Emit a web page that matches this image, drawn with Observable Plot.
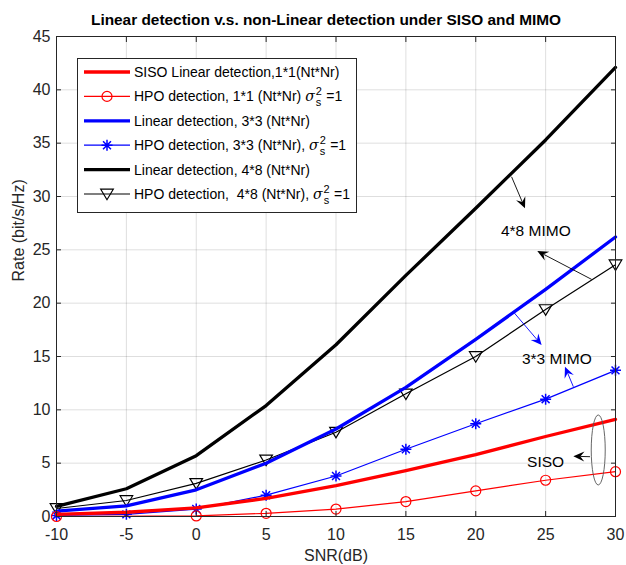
<!DOCTYPE html>
<html><head><meta charset="utf-8">
<script src="https://cdn.jsdelivr.net/npm/d3@7"></script>
<script src="https://cdn.jsdelivr.net/npm/@observablehq/plot@0.6"></script>
<style>
body{margin:0;background:#fff;}
#wrap{position:relative;width:626px;height:565px;font-family:"Liberation Sans",Arial,sans-serif;}
#legend{position:absolute;left:77px;top:58px;}
</style></head>
<body><div id="wrap"></div>
<script>
// ---- data ----
const snr = [-10, -5, 0, 5, 10, 15, 20, 25, 30];
const sisoLinear = [0.2, 0.4, 0.8, 1.7, 2.9, 4.3, 5.8, 7.5, 9.1];
const sisoHPO = [0.0, null, 0.05, 0.3, 0.7, 1.4, 2.4, 3.4, 4.2];
const mimo33Linear = [0.5, 1.0, 2.5, 5.0, 8.2, 12.1, 16.6, 21.3, 26.2];
const mimo33HPO = [0.1, 0.2, 0.7, 2.0, 3.8, 6.3, 8.7, 11.0, 13.7];
const mimo48Linear = [0.95, 2.6, 5.7, 10.4, 16.1, 22.6, 28.9, 35.3, 42.1];
const mimo48HPO = [0.75, 1.5, 3.1, 5.3, 7.9, 11.5, 15.0, 19.4, 23.6];
const xTicks = [-10, -5, 0, 5, 10, 15, 20, 25, 30];
const yTicks = [0, 5, 10, 15, 20, 25, 30, 35, 40, 45];
const titleText = "Linear detection v.s. non-Linear detection under SISO and MIMO";
const xLabel = "SNR(dB)";
const yLabel = "Rate (bit/s/Hz)";
const legendLabels = [
  "SISO Linear detection,1*1(Nt*Nr)",
  "HPO detection, 1*1 (Nt*Nr) ",
  "Linear detection, 3*3 (Nt*Nr)",
  "HPO detection, 3*3 (Nt*Nr), ",
  "Linear detection, 4*8 (Nt*Nr)",
  "HPO detection,  4*8 (Nt*Nr), "
];
// annotations (data units)
const annotLabels = [
  {text: "4*8 MIMO", x: 24.3, y: 26.8, color: "#000"},
  {text: "3*3 MIMO", x: 25.8, y: 14.8, color: "#000"},
  {text: "SISO", x: 25.0, y: 5.1, color: "#000"}
];
const arrows = [
  {x1: 22.6, y1: 31.8, x2: 23.56, y2: 28.84, color: "#000"},
  {x1: 28.33, y1: 22.18, x2: 24.44, y2: 24.84, color: "#000"},
  {x1: 22.72, y1: 19.15, x2: 24.75, y2: 16.03, color: "#0000ff"},
  {x1: 27.02, y1: 12.12, x2: 26.42, y2: 14.0, color: "#0000ff"},
  {x1: 28.21, y1: 5.56, x2: 27.02, y2: 5.6, color: "#000"}
];
const ellipses = [{x: 28.8, y: 6.19, rx: 7, ry: 35}];

// ---- helpers ----
const rows = (ys) => snr.map((x, i) => ({x, y: ys[i]})).filter(d => d.y != null);
const asterisk = {draw(ctx, size) {
  const r = Math.sqrt(size / Math.PI), d = r * 0.72;
  ctx.moveTo(0, -r); ctx.lineTo(0, r);
  ctx.moveTo(-r, 0); ctx.lineTo(r, 0);
  ctx.moveTo(-d, -d); ctx.lineTo(d, d);
  ctx.moveTo(-d, d); ctx.lineTo(d, -d);
}};
const triDown = {draw(ctx, size) {
  const r = Math.sqrt(size / Math.PI);
  ctx.moveTo(0, r * 0.95); ctx.lineTo(-r * 1.05, -r * 0.8); ctx.lineTo(r * 1.05, -r * 0.8); ctx.closePath();
}};
const circ = {draw(ctx, size) { const r = Math.sqrt(size / Math.PI); ctx.moveTo(r, 0); ctx.arc(0, 0, r, 0, 2 * Math.PI); }};

function annotMark(index, scales) {
  const g = d3.create("svg:g");
  for (const a of arrows) {
    const x1 = scales.x(a.x1), y1 = scales.y(a.y1), x2 = scales.x(a.x2), y2 = scales.y(a.y2);
    const ang = Math.atan2(y2 - y1, x2 - x1), L = 11, W = 5, N = 7;
    const bx = x2 - L * Math.cos(ang), by = y2 - L * Math.sin(ang);
    const nx = x2 - N * Math.cos(ang), ny = y2 - N * Math.sin(ang);
    const px = -Math.sin(ang), py = Math.cos(ang);
    g.append("line").attr("x1", x1).attr("y1", y1).attr("x2", nx).attr("y2", ny).attr("stroke", a.color).attr("stroke-width", 0.9);
    g.append("path").attr("d", `M${x2},${y2}L${bx + px * W},${by + py * W}L${nx},${ny}L${bx - px * W},${by - py * W}Z`).attr("fill", a.color);
  }
  for (const e of ellipses) {
    g.append("ellipse").attr("cx", scales.x(e.x)).attr("cy", scales.y(e.y)).attr("rx", e.rx).attr("ry", e.ry)
      .attr("fill", "none").attr("stroke", "#555").attr("stroke-width", 0.9);
  }
  return g.node();
}

const FONT = "Liberation Sans, Arial, sans-serif";
const chart = Plot.plot({
  width: 626, height: 565,
  marginLeft: 56, marginRight: 11, marginTop: 36, marginBottom: 49,
  style: {fontFamily: FONT, fontSize: "16px", color: "#262626", background: "#fff"},
  x: {domain: [-10, 30]},
  y: {domain: [0, 45]},
  marks: [
    Plot.gridX(xTicks, {stroke: "#000", strokeOpacity: 0.13}),
    Plot.gridY(yTicks, {stroke: "#000", strokeOpacity: 0.13}),
    Plot.line(rows(mimo48Linear), {x: "x", y: "y", stroke: "#000", strokeWidth: 3.3}),
    Plot.line(rows(mimo48HPO), {x: "x", y: "y", stroke: "#000", strokeWidth: 1.2}),
    Plot.dot(rows(mimo48HPO), {x: "x", y: "y", r: 6, symbol: triDown, stroke: "#000", fill: "none", strokeWidth: 1.2}),
    Plot.line(rows(mimo33Linear), {x: "x", y: "y", stroke: "#0000ff", strokeWidth: 3.3}),
    Plot.line(rows(mimo33HPO), {x: "x", y: "y", stroke: "#0000ff", strokeWidth: 1.2}),
    Plot.dot(rows(mimo33HPO), {x: "x", y: "y", r: 5.5, symbol: asterisk, stroke: "#0000ff", fill: "none", strokeWidth: 1.5}),
    Plot.line(rows(sisoLinear), {x: "x", y: "y", stroke: "#ff0000", strokeWidth: 3.3}),
    Plot.line(rows(sisoHPO), {x: "x", y: "y", stroke: "#ff0000", strokeWidth: 1.2}),
    Plot.dot(rows(sisoHPO), {x: "x", y: "y", r: 5, symbol: circ, stroke: "#ff0000", fill: "none", strokeWidth: 1.2}),
    annotMark,
    Plot.text(annotLabels, {x: "x", y: "y", text: "text", fill: "color", fontSize: 15.5}),
    Plot.frame({stroke: "#262626", strokeWidth: 1}),
    Plot.axisX(xTicks, {anchor: "bottom", tickSize: -5, tickPadding: 17, label: null, tickFormat: d => d, stroke: "#262626", fill: "#262626"}),
    Plot.axisX(xTicks, {anchor: "top", tickSize: -5, label: null, tickFormat: () => "", stroke: "#262626"}),
    Plot.axisY(yTicks, {anchor: "left", tickSize: -5, tickPadding: 11, label: null, tickFormat: d => d, stroke: "#262626", fill: "#262626"}),
    Plot.axisY(yTicks, {anchor: "right", tickSize: -5, label: null, tickFormat: () => "", stroke: "#262626"}),
    Plot.text([titleText], {frameAnchor: "top", text: d => d, lineAnchor: "middle", dy: -16, dx: -10, fontWeight: "bold", fontSize: 15.4, fill: "#000"}),
    Plot.text([xLabel], {frameAnchor: "bottom", text: d => d, lineAnchor: "middle", dy: 39, fontSize: 16, fill: "#262626"}),
    Plot.text([yLabel], {frameAnchor: "left", text: d => d, dx: -38, dy: 5, rotate: -90, fontSize: 16, fill: "#262626"})
  ]
});
const wrap = document.getElementById("wrap");
wrap.appendChild(chart);

// ---- legend ----
const legendStyles = [
  {color: "#ff0000", w: 3.3, sym: null},
  {color: "#ff0000", w: 1.2, sym: circ, r: 5, sig: true},
  {color: "#0000ff", w: 3.3, sym: null},
  {color: "#0000ff", w: 1.2, sym: asterisk, r: 5.5, sig: true, sw: 1.5},
  {color: "#000", w: 3.3, sym: null},
  {color: "#000", w: 1.2, sym: triDown, r: 6, sig: true}
];
const LW = 280, LH = 155;
const lg = d3.create("svg").attr("id", "legend").attr("width", LW).attr("height", LH)
  .style("font-family", FONT).style("font-size", "14px");
lg.append("rect").attr("x", 0.5).attr("y", 0.5).attr("width", LW - 1).attr("height", LH - 1).attr("fill", "#fff").attr("stroke", "#262626");
legendLabels.forEach((lab, i) => {
  const st = legendStyles[i];
  const cy = 14 + i * 24.4;
  lg.append("line").attr("x1", 7).attr("x2", 53).attr("y1", cy).attr("y2", cy).attr("stroke", st.color).attr("stroke-width", st.w);
  if (st.sym) {
    const p = d3.path(); st.sym.draw(p, st.r * st.r * Math.PI);
    lg.append("path").attr("d", p.toString()).attr("transform", `translate(30,${cy})`).attr("fill", "none").attr("stroke", st.color).attr("stroke-width", st.sw || 1.2);
  }
  const t = lg.append("text").attr("x", 57).attr("y", cy).attr("dy", "0.35em").attr("fill", "#000").style("white-space", "pre");
  t.append("tspan").text(lab);
  if (st.sig) {
    t.append("tspan").attr("font-style", "italic").attr("font-family", "DejaVu Serif, serif").text("σ");
    t.append("tspan").attr("font-size", "11px").attr("dy", -6).attr("dx", 1).text("2");
    t.append("tspan").attr("font-size", "11px").attr("dy", 11).attr("dx", -6).text("s");
    t.append("tspan").attr("dy", -5).attr("dx", 1).text(" =1");
  }
});
wrap.appendChild(lg.node());
</script>
</body></html>
